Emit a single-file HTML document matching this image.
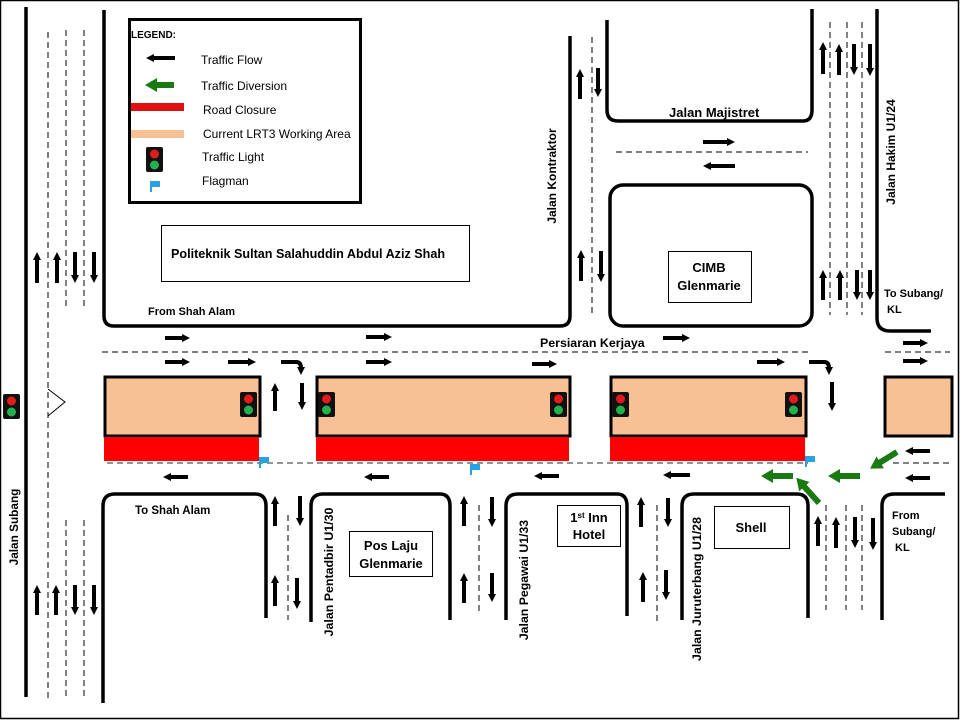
<!DOCTYPE html>
<html><head><meta charset="utf-8"><style>
html,body{margin:0;padding:0;background:#fff}
svg{display:block}
text{font-family:"Liberation Sans",sans-serif;font-weight:bold;fill:#000}
.n{font-weight:normal}
</style></head><body>
<svg width="960" height="720" viewBox="0 0 960 720" font-size="11" xmlns="http://www.w3.org/2000/svg">
<defs>
<marker id="a" markerUnits="userSpaceOnUse" markerWidth="8" markerHeight="8" refX="4" refY="4" orient="auto"><path d="M0,0 L8,4 L0,8 z" fill="#000"/></marker>
<marker id="g" markerUnits="userSpaceOnUse" markerWidth="12" markerHeight="14" refX="5" refY="7" orient="auto"><path d="M0,0 L12,7 L0,14 z" fill="#1a7a12"/></marker>
<g id="tl"><rect x="0" y="0" width="17" height="25" rx="2" fill="#111"/><circle cx="8.5" cy="7" r="4.5" fill="#e31b1b"/><circle cx="8.5" cy="18" r="4.5" fill="#22b14c"/></g>
<g id="fl"><rect x="0" y="0" width="2" height="11" fill="#29a3e0"/><rect x="0" y="0" width="10" height="6" fill="#29a3e0"/></g>
</defs>
<rect x="0.5" y="0.5" width="958" height="718" fill="#fff" stroke="#000" stroke-width="1.5"/>

<g fill="none" stroke="#000" stroke-width="3.5">
<line x1="26" y1="7" x2="26" y2="697"/>
<path d="M104,10 V316 Q104,326 114,326 H560 Q570,326 570,316 V36"/>
<path d="M607,20 V110 Q607,121 618,121 H803 Q812,121 812,110 V9"/>
<rect x="610" y="185" width="202" height="141" rx="13"/>
<path d="M877,9 V318 Q877,331 890,331 H931"/>
<path d="M103,703 V506 Q103,494 115,494 H255 Q266,494 266,506 V618"/>
<path d="M311,622 V506 Q311,494 323,494 H440 Q450,494 450,506 V620"/>
<path d="M506,620 V506 Q506,494 518,494 H617 Q627,494 627,506 V616"/>
<path d="M682,620 V506 Q682,494 694,494 H797 Q808,494 808,506 V618"/>
<path d="M882,620 V506 Q882,494 894,494 H945"/>
</g>

<g stroke="#000" stroke-width="1" stroke-dasharray="6,4" fill="none">
<line x1="48" y1="32" x2="48" y2="700"/>
<line x1="66" y1="30" x2="66" y2="308"/><line x1="84" y1="30" x2="84" y2="308"/>
<line x1="66" y1="520" x2="66" y2="700"/><line x1="84" y1="520" x2="84" y2="700"/>
<line x1="592" y1="37" x2="592" y2="314"/>
<line x1="616" y1="152" x2="808" y2="152"/>
<line x1="830" y1="22" x2="830" y2="315"/><line x1="847" y1="22" x2="847" y2="315"/><line x1="862" y1="22" x2="862" y2="315"/>
<line x1="102" y1="352" x2="808" y2="352"/><line x1="885" y1="352" x2="950" y2="352"/>
<line x1="288" y1="515" x2="288" y2="620"/><line x1="479" y1="505" x2="479" y2="615"/><line x1="657" y1="505" x2="657" y2="625"/>
<line x1="826" y1="505" x2="826" y2="610"/><line x1="846" y1="505" x2="846" y2="610"/><line x1="862" y1="505" x2="862" y2="610"/>
<line x1="893" y1="463" x2="950" y2="463"/>
</g>
<line x1="107" y1="463" x2="808" y2="463" stroke="#555" stroke-width="1.3" stroke-dasharray="6,4"/>

<g fill="#f8c195" stroke="#000" stroke-width="3">
<rect x="105" y="377" width="155" height="59"/>
<rect x="317" y="377" width="253" height="59"/>
<rect x="611" y="377" width="195" height="59"/>
<rect x="885" y="377" width="67" height="59"/>
</g>
<g fill="#ff0000">
<rect x="104" y="437" width="155" height="24"/>
<rect x="316" y="437" width="253" height="24"/>
<rect x="610" y="437" width="195" height="24"/>
</g>
<use href="#tl" x="240" y="392"/><use href="#tl" x="318" y="392"/><use href="#tl" x="550" y="392"/>
<use href="#tl" x="612" y="392"/><use href="#tl" x="785" y="392"/><use href="#tl" x="3" y="394"/>
<use href="#fl" x="259" y="457"/><use href="#fl" x="470" y="464"/><use href="#fl" x="805" y="456"/>
<path d="M48,389 L65,402 L48,416" fill="none" stroke="#000" stroke-width="1"/>

<g stroke="#000" stroke-width="4" marker-end="url(#a)" fill="none">
<line x1="37" y1="283" x2="37" y2="256"/><line x1="57" y1="283" x2="57" y2="256"/><line x1="75" y1="252" x2="75" y2="279"/><line x1="94" y1="252" x2="94" y2="279"/>
<line x1="37" y1="615" x2="37" y2="589"/><line x1="56" y1="615" x2="56" y2="589"/><line x1="75" y1="585" x2="75" y2="611"/><line x1="94" y1="585" x2="94" y2="611"/>
<line x1="580" y1="99" x2="580" y2="73"/><line x1="598" y1="68" x2="598" y2="93"/>
<line x1="581" y1="281" x2="581" y2="254"/><line x1="601" y1="251" x2="601" y2="278"/>
<line x1="703" y1="142" x2="731" y2="142"/><line x1="735" y1="166" x2="707" y2="166"/>
<line x1="823" y1="74" x2="823" y2="46"/><line x1="839" y1="75" x2="839" y2="48"/><line x1="854" y1="44" x2="854" y2="71"/><line x1="870" y1="44" x2="870" y2="72"/>
<line x1="823" y1="300" x2="823" y2="274"/><line x1="840" y1="300" x2="840" y2="274"/><line x1="857" y1="270" x2="857" y2="296"/><line x1="870" y1="270" x2="870" y2="296"/>
<line x1="165" y1="338" x2="186" y2="338"/><line x1="366" y1="337" x2="388" y2="337"/><line x1="663" y1="338" x2="686" y2="338"/><line x1="903" y1="343" x2="924" y2="343"/>
<line x1="165" y1="362" x2="186" y2="362"/><line x1="228" y1="362" x2="252" y2="362"/><line x1="366" y1="362" x2="388" y2="362"/><line x1="532" y1="364" x2="553" y2="364"/><line x1="757" y1="362" x2="781" y2="362"/><line x1="903" y1="361" x2="924" y2="361"/>
<path d="M281,362 H296 Q301,362 301,368 V371"/><path d="M809,362 H824 Q829,362 829,368 V371"/>
<line x1="275" y1="411" x2="275" y2="387"/><line x1="302" y1="383" x2="302" y2="406"/><line x1="832" y1="382" x2="832" y2="407"/>
<line x1="188" y1="477" x2="167" y2="477"/><line x1="389" y1="477" x2="368" y2="477"/><line x1="559" y1="476" x2="538" y2="476"/><line x1="690" y1="475" x2="667" y2="475"/>
<line x1="930" y1="451" x2="909" y2="451"/><line x1="930" y1="478" x2="909" y2="478"/>
<line x1="275" y1="526" x2="275" y2="500"/><line x1="300" y1="496" x2="300" y2="522"/><line x1="275" y1="606" x2="275" y2="579"/><line x1="297" y1="578" x2="297" y2="605"/>
<line x1="464" y1="526" x2="464" y2="500"/><line x1="492" y1="497" x2="492" y2="523"/><line x1="464" y1="603" x2="464" y2="577"/><line x1="492" y1="573" x2="492" y2="598"/>
<line x1="641" y1="527" x2="641" y2="501"/><line x1="668" y1="498" x2="668" y2="523"/><line x1="643" y1="602" x2="643" y2="576"/><line x1="666" y1="570" x2="666" y2="596"/>
<line x1="818" y1="546" x2="818" y2="520"/><line x1="836" y1="548" x2="836" y2="521"/><line x1="855" y1="517" x2="855" y2="544"/><line x1="873" y1="518" x2="873" y2="546"/>
</g>
<g stroke="#1a7a12" stroke-width="6" marker-end="url(#g)" fill="none">
<line x1="793" y1="476" x2="768" y2="476"/><line x1="860" y1="476" x2="835" y2="476"/>
<line x1="897" y1="452" x2="876" y2="465"/><line x1="819" y1="503" x2="801" y2="483"/>
</g>

<rect x="129.5" y="19.5" width="231" height="183" fill="#fff" stroke="#000" stroke-width="3"/>
<text x="131" y="38" font-size="10">LEGEND:</text>
<line x1="175" y1="58" x2="150" y2="58" stroke="#000" stroke-width="4" marker-end="url(#a)"/>
<line x1="174" y1="85" x2="152" y2="85" stroke="#1a7a12" stroke-width="6" marker-end="url(#g)"/>
<rect x="131" y="103" width="53" height="8" fill="#e01010"/>
<rect x="131" y="130" width="53" height="8" fill="#f8c195"/>
<use href="#tl" x="146" y="147"/>
<use href="#fl" x="150" y="181"/>
<text class="n" x="201" y="64" font-size="12">Traffic Flow</text>
<text class="n" x="201" y="90" font-size="12">Traffic Diversion</text>
<text class="n" x="203" y="114" font-size="12">Road Closure</text>
<text class="n" x="203" y="138" font-size="12">Current LRT3  Working Area</text>
<text class="n" x="202" y="161" font-size="12">Traffic Light</text>
<text class="n" x="202" y="185" font-size="12">Flagman</text>

<rect x="161.5" y="225.5" width="308" height="56" fill="none" stroke="#000" stroke-width="1"/>
<text x="171" y="258" font-size="12.6">Politeknik Sultan Salahuddin Abdul Aziz Shah</text>
<rect x="668.5" y="251.5" width="83" height="51" fill="none" stroke="#000" stroke-width="1"/>
<text x="709" y="272" font-size="13" text-anchor="middle">CIMB</text>
<text x="709" y="290" font-size="13" text-anchor="middle">Glenmarie</text>
<rect x="349.5" y="531.5" width="83" height="45" fill="none" stroke="#000" stroke-width="1"/>
<text x="391" y="550" font-size="13" text-anchor="middle">Pos Laju</text>
<text x="391" y="568" font-size="13" text-anchor="middle">Glenmarie</text>
<rect x="557.5" y="505.5" width="63" height="41" fill="none" stroke="#000" stroke-width="1"/>
<text x="589" y="522" font-size="13" text-anchor="middle">1<tspan font-size="8" dy="-4">st</tspan><tspan dy="4"> Inn</tspan></text>
<text x="589" y="539" font-size="13" text-anchor="middle">Hotel</text>
<rect x="714.5" y="506.5" width="75" height="42" fill="none" stroke="#000" stroke-width="1"/>
<text x="751" y="532" font-size="13" text-anchor="middle">Shell</text>

<text x="148" y="315">From Shah Alam</text>
<text x="135" y="514" font-size="11.5">To Shah Alam</text>
<text x="669" y="117" font-size="13">Jalan Majistret</text>
<text x="540" y="347" font-size="12.4">Persiaran Kerjaya</text>
<text x="884" y="297">To Subang/</text>
<text x="887" y="313">KL</text>
<text x="892" y="519">From</text>
<text x="892" y="535">Subang/</text>
<text x="895" y="551">KL</text>
<text transform="translate(18,527) rotate(-90)" text-anchor="middle" font-size="11.8">Jalan Subang</text>
<text transform="translate(556,176) rotate(-90)" text-anchor="middle" font-size="12">Jalan Kontraktor</text>
<text transform="translate(333,572) rotate(-90)" text-anchor="middle" font-size="12.4">Jalan Pentadbir U1/30</text>
<text transform="translate(528,580) rotate(-90)" text-anchor="middle" font-size="12.3">Jalan Pegawai U1/33</text>
<text transform="translate(701,589) rotate(-90)" text-anchor="middle" font-size="12.4">Jalan Juruterbang U1/28</text>
<text transform="translate(895,152) rotate(-90)" text-anchor="middle" font-size="12">Jalan  Hakim U1/24</text>
</svg>
</body></html>
